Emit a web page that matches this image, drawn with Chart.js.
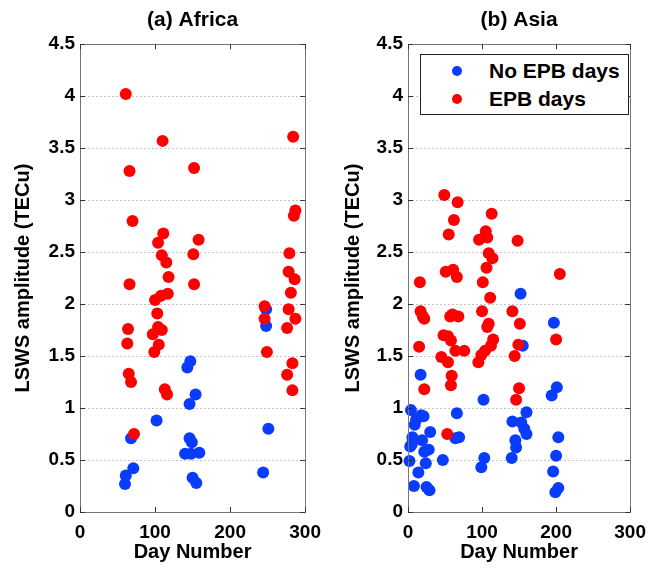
<!DOCTYPE html>
<html lang="en">
<head>
<meta charset="UTF-8">
<title>LSWS amplitude vs day number</title>
<script src="https://cdn.jsdelivr.net/npm/chart.js"></script>
<style>
  body {
    margin: 0;
    background: #fff;
    width: 655px;
    height: 569px;
    overflow: hidden;
    position: relative;
    font-family: 'Liberation Sans', Arial, Helvetica, sans-serif;
  }
  canvas { position: absolute; top: 0; }
  #africaChart { left: 0; }
  #asiaChart { left: 330px; }

  /* legend box sitting inside the Asia axes */
  .legend {
    position: absolute;
    left: 420px;
    top: 54px;
    width: 207px;
    height: 59px;
    border: 1px solid #222;
    background: #fff;
    font-weight: bold;
    font-size: 21px;
    color: #000;
  }
  .legend-row { position: absolute; left: 0; width: 100%; height: 28px; line-height: 28px; white-space: nowrap; }
  .legend-dot { position: absolute; left: 31px; top: 9px; width: 10px; height: 10px; border-radius: 50%; }
  .legend-text { position: absolute; left: 68px; }
</style>
</head>
<body>
<canvas id="africaChart" width="330" height="569"></canvas>
<canvas id="asiaChart" width="325" height="569"></canvas>
<div class="legend" id="legend"></div>

<script>
// --- data: day number and LSWS amplitude (TECu) ---
const seriesNames = ['No EPB days', 'EPB days'];
const seriesColors = ['#0a3cff', '#ff0000'];

// (a) Africa
const africaNoEpbDays = [60, 61, 68, 71, 102, 140, 143, 146, 146, 147, 148, 149, 150, 154, 155, 159, 244, 248, 248, 251];
const africaNoEpbAmp  = [0.27, 0.35, 0.71, 0.42, 0.88, 0.56, 1.39, 0.71, 1.04, 1.45, 0.56, 0.67, 0.33, 1.13, 0.28, 0.57, 0.38, 1.95, 1.79, 0.80];

const africaEpbDays = [61, 63, 64, 65, 66, 66, 68, 70, 72, 97, 99, 100, 103, 104, 104, 105, 108, 109, 109, 110,
                       111, 113, 115, 116, 117, 118, 151, 152, 152, 158, 246, 246, 249, 276, 276, 278, 278, 279,
                       281, 283, 283, 284, 285, 286, 287, 287];
const africaEpbAmp  = [4.02, 1.62, 1.76, 1.33, 3.28, 2.19, 1.25, 2.80, 0.75, 1.71, 1.54, 2.04, 1.91, 2.59, 1.78, 1.61, 2.08, 1.75, 2.47, 3.57,
                       2.68, 1.18, 2.40, 1.13, 2.10, 2.26, 2.48, 3.31, 2.19, 2.62, 1.98, 1.86, 1.54, 1.77, 1.32, 1.95, 2.31, 2.49,
                       2.11, 1.17, 1.43, 3.61, 2.85, 2.24, 2.90, 1.86];

// (b) Asia
const asiaNoEpbDays = [2, 3, 4, 5, 6, 8, 9, 11, 14, 17, 18, 19, 21, 22, 24, 25, 28, 29, 30, 47, 64, 66,
                       69, 99, 102, 103, 140, 141, 145, 146, 152, 153, 155, 157, 160, 160, 194, 196, 197, 199, 200, 201, 203, 203];
const asiaNoEpbAmp  = [0.49, 0.63, 0.98, 0.65, 0.72, 0.25, 0.84, 0.89, 0.38, 1.32, 0.93, 0.69, 0.92, 0.58, 0.47, 0.24, 0.60, 0.21, 0.77, 0.50, 0.71, 0.95,
                       0.72, 0.43, 1.08, 0.52, 0.52, 0.87, 0.69, 0.62, 2.10, 0.86, 1.60, 0.80, 0.96, 0.75, 1.12, 0.39, 1.82, 0.19, 0.54, 1.20, 0.72, 0.23];

const asiaEpbDays = [15, 16, 17, 20, 22, 22, 45, 48, 49, 51, 53, 54, 54, 55, 57, 58, 58, 59, 60, 61, 62, 64, 66, 67, 68, 76,
                     95, 96, 99, 100, 101, 104, 105, 106, 107, 107, 109, 109, 111, 112, 113, 114, 115,
                     141, 144, 146, 148, 149, 150, 151, 200, 205];
const asiaEpbAmp  = [1.59, 2.21, 1.93, 1.88, 1.86, 1.18, 1.49, 1.70, 3.05, 2.31, 0.75, 1.69, 1.44, 2.67, 1.88, 1.22, 1.65, 1.31, 1.90, 2.33, 2.81, 1.55, 2.26, 2.98, 1.88, 1.55,
                     1.44, 2.62, 1.51, 1.93, 2.21, 1.55, 2.70, 2.35, 2.64, 1.78, 2.49, 1.81, 2.06, 1.60, 2.87, 2.44, 1.66,
                     1.93, 1.50, 1.08, 2.61, 1.61, 1.19, 1.81, 1.66, 2.29];

const FONT = "'Liberation Sans', Arial, Helvetica, sans-serif";
const FRAME = '#777';

function toPoints(days, amps) {
  return days.map((d, i) => ({ x: d, y: amps[i] }));
}

// box around the axes plus small inward tick marks (matlab look)
const frameTicks = {
  id: 'frameTicks',
  afterDraw(chart) {
    const { ctx, chartArea: a, scales: { x, y } } = chart;
    const len = 5;
    ctx.save();
    ctx.strokeStyle = FRAME;
    ctx.lineWidth = 1;
    ctx.strokeRect(Math.round(a.left) + 0.5, Math.round(a.top) + 0.5,
                   Math.round(a.right - a.left), Math.round(a.bottom - a.top));
    ctx.strokeStyle = '#333';
    ctx.beginPath();
    x.ticks.forEach(t => {
      const px = Math.round(x.getPixelForValue(t.value)) + 0.5;
      ctx.moveTo(px, a.top); ctx.lineTo(px, a.top + len);
      ctx.moveTo(px, a.bottom); ctx.lineTo(px, a.bottom - len);
    });
    y.ticks.forEach(t => {
      const py = Math.round(y.getPixelForValue(t.value)) + 0.5;
      ctx.moveTo(a.left, py); ctx.lineTo(a.left + len, py);
      ctx.moveTo(a.right, py); ctx.lineTo(a.right - len, py);
    });
    ctx.stroke();
    ctx.restore();
  }
};

function makePanel(canvasId, title, noEpb, epb, yAxisWidth, rightPad) {
  return new Chart(document.getElementById(canvasId), {
    type: 'scatter',
    data: {
      // red drawn last so it sits on top of the blue dots
      datasets: [
        { label: seriesNames[1], data: epb, backgroundColor: seriesColors[1], borderWidth: 0, pointRadius: 6, pointHoverRadius: 6, clip: false },
        { label: seriesNames[0], data: noEpb, backgroundColor: seriesColors[0], borderWidth: 0, pointRadius: 6, pointHoverRadius: 6, clip: false }
      ]
    },
    options: {
      responsive: false,
      animation: false,
      layout: { padding: { left: 0, right: rightPad, top: 0, bottom: 0 } },
      plugins: {
        legend: { display: false },
        tooltip: { enabled: false },
        title: {
          display: true,
          text: title,
          fullSize: false,
          color: '#000',
          font: { family: FONT, size: 21, weight: 'bold' },
          padding: { top: 8, bottom: 11 }
        }
      },
      scales: {
        x: {
          type: 'linear',
          min: 0, max: 300,
          grid: { display: false, drawTicks: false },
          border: { display: false },
          ticks: { stepSize: 100, padding: 9, color: '#000', font: { family: FONT, size: 19, weight: 'bold' } },
          title: { display: true, text: 'Day Number', color: '#000', padding: { top: 0, bottom: 5 },
                   font: { family: FONT, size: 20, weight: 'bold' } },
          afterFit(scale) { scale.height = 57; }
        },
        y: {
          min: 0, max: 4.5,
          grid: { color: '#c4c4c4', drawTicks: false },
          border: { display: false, dash: [2, 2] },
          ticks: {
            stepSize: 0.5, padding: 5, color: '#000',
            font: { family: FONT, size: 19, weight: 'bold' },
            callback: v => String(Math.round(v * 10) / 10)
          },
          title: { display: true, text: 'LSWS amplitude (TECu)', color: '#000', padding: { top: 11, bottom: 0 },
                   font: { family: FONT, size: 20, weight: 'bold' } },
          afterFit(scale) { scale.width = yAxisWidth; }
        }
      }
    },
    plugins: [frameTicks]
  });
}

makePanel('africaChart', '(a) Africa',
  toPoints(africaNoEpbDays, africaNoEpbAmp), toPoints(africaEpbDays, africaEpbAmp), 80, 22);
makePanel('asiaChart', '(b) Asia',
  toPoints(asiaNoEpbDays, asiaNoEpbAmp), toPoints(asiaEpbDays, asiaEpbAmp), 78, 18);

// legend entries for the Asia panel
const legend = document.getElementById('legend');
seriesNames.forEach((name, i) => {
  const row = document.createElement('div');
  row.className = 'legend-row';
  row.style.top = (2 + i * 28) + 'px';
  const dot = document.createElement('span');
  dot.className = 'legend-dot';
  dot.style.background = seriesColors[i];
  const txt = document.createElement('span');
  txt.className = 'legend-text';
  txt.textContent = name;
  row.appendChild(dot);
  row.appendChild(txt);
  legend.appendChild(row);
});
</script>
</body>
</html>
